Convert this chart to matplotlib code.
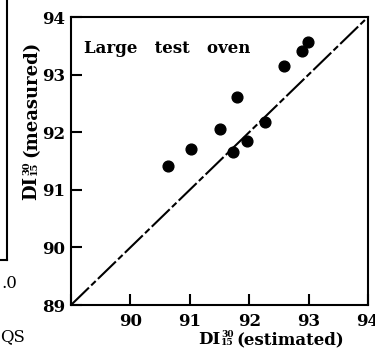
import matplotlib
matplotlib.use('Agg')
import matplotlib.pyplot as plt
from matplotlib.lines import Line2D
from matplotlib.transforms import IdentityTransform

# measured vs estimated DI values, large test oven
di_estimated = [90.63, 91.02, 91.50, 91.73, 91.79, 91.97, 92.27, 92.58, 92.89, 92.99]
di_measured = [91.42, 91.70, 92.06, 91.65, 92.61, 91.85, 92.18, 93.15, 93.41, 93.57]
x_ticks = [89, 90, 91, 92, 93, 94]
y_ticks = [89, 90, 91, 92, 93, 94]

W, H = 375, 349

plt.rcParams['font.family'] = 'DejaVu Serif'
plt.rcParams['font.weight'] = 'bold'

fig = plt.figure(figsize=(W / 100, H / 100), dpi=100)
ax = fig.add_axes([71 / W, 1 - 305 / H, (368 - 71) / W, (305 - 17) / H])

ax.plot([89, 94], [89, 94], color='black', lw=1.5, dashes=(12, 1.5, 3, 1.5))
ax.scatter(di_estimated, di_measured, s=60, color='black', zorder=3)

ax.set_xlim(89, 94)
ax.set_ylim(89, 94)
ax.set_xticks(x_ticks)
ax.set_yticks(y_ticks)
ax.set_xticklabels([''] + [str(t) for t in x_ticks[1:]])
ax.tick_params(direction='in', length=8, width=1.5, labelsize=12, pad=4)
ax.tick_params(axis='x', pad=6)
for s in ax.spines.values():
    s.set_linewidth(1.5)

ax.text(0.045, 0.892, 'Large   test   oven', transform=ax.transAxes,
        fontsize=12, ha='left', va='center')

# axis labels are put together piece by piece so the 30/15 can be stacked small
renderer = fig.canvas.get_renderer()
px = IdentityTransform()


def put(x, y, s, size, rot=0):
    t = fig.text(x, y, s, transform=px, fontsize=size, rotation=rot,
                 rotation_mode='anchor', ha='left', va='baseline')
    bb = t.get_window_extent(renderer)
    return bb.height if rot else bb.width


# x label, pixel coords from bottom-left
x, base = 198, H - 344
x += put(x, base, 'DI', 12) + 1
x += max(put(x, H - 337, '30', 6.5), put(x, H - 345, '15', 6.5)) + 2
put(x, base, '(estimated)', 12)

# y label, running upwards
y = H - 200
y += put(36, y, 'DI', 13, 90) + 1
y += max(put(29, y, '30', 7, 90), put(37, y, '15', 7, 90)) + 4
put(36, y, '(measured)', 13, 90)

# remnants of the neighbouring panel on the left edge
fig.add_artist(Line2D([7 / W, 7 / W], [1, 1 - 260 / H], transform=fig.transFigure,
                      color='black', lw=1.5))
fig.add_artist(Line2D([0, 7 / W], [1 - 260 / H, 1 - 260 / H], transform=fig.transFigure,
                      color='black', lw=1.5))
fig.text(1 / W, 1 - 283 / H, '.0', ha='left', va='center', fontsize=12, fontweight='normal')
fig.text(0, 1 - 337 / H, 'QS', ha='left', va='center', fontsize=12, fontweight='normal')

fig.savefig('out.png', dpi=100)
